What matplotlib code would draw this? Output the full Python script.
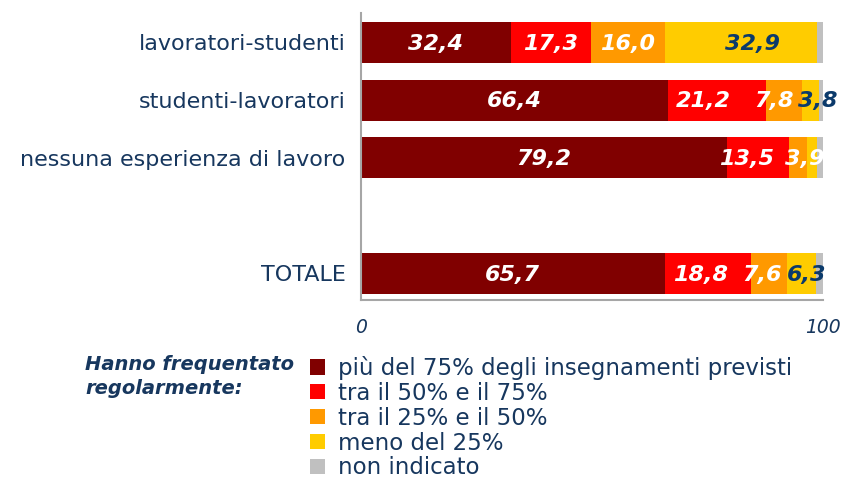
import matplotlib.pyplot as plt
from matplotlib.patches import Patch

categories = ['lavoratori-studenti', 'studenti-lavoratori',
              'nessuna esperienza di lavoro', 'TOTALE']
ypos = [0, 1, 2, 4]

series_names = ['più del 75% degli insegnamenti previsti', 'tra il 50% e il 75%',
                'tra il 25% e il 50%', 'meno del 25%', 'non indicato']
over75 = [32.4, 66.4, 79.2, 65.7]
from50to75 = [17.3, 21.2, 13.5, 18.8]
from25to50 = [16.0, 7.8, 3.9, 7.6]
under25 = [32.9, 3.8, 2.0, 6.3]
not_given = [1.4, 0.8, 1.4, 1.6]
# which segments carry a printed value
show_label = [
    [True, True, True, True, False],
    [True, True, True, True, False],
    [True, True, True, False, False],
    [True, True, True, True, False],
]
# small nudges (x units) so crowded labels don't collide, like in the original
nudge = {(0, 3): 2.5, (1, 1): -3.0, (1, 2): -2.0, (1, 3): 1.5,
         (2, 1): -2.5, (2, 2): 1.3, (3, 1): -1.5, (3, 2): -1.5, (3, 3): 1.3}

colors = ['#800000', '#FF0000', '#FF9900', '#FFCC00', '#C0C0C0']
label_colors = ['white', 'white', 'white', '#0B3A6B', 'white']
navy = '#17375E'

fig = plt.figure(figsize=(8.48, 4.79), dpi=100)
ax = fig.add_axes([361 / 848, 1 - 300 / 479, 462 / 848, 287 / 479])

series = [over75, from50to75, from25to50, under25, not_given]
left = [0.0] * len(categories)
for s, vals in enumerate(series):
    ax.barh(ypos, vals, left=left, height=0.71, color=colors[s], label=series_names[s])
    for i, v in enumerate(vals):
        if show_label[i][s]:
            ax.text(left[i] + v / 2 + nudge.get((i, s), 0), ypos[i] + 0.02,
                    f'{v:.1f}'.replace('.', ','),
                    ha='center', va='center', color=label_colors[s],
                    fontsize=16, fontweight='bold', fontstyle='italic')
    left = [l + v for l, v in zip(left, vals)]

ax.set_xlim(0, 100)
ax.set_ylim(4.46, -0.51)
ax.set_yticks(ypos)
ax.set_yticklabels(categories, fontsize=16, color=navy)
ax.set_xticks([0, 100])
ax.set_xticklabels(['0', '100'], fontsize=13.5, color=navy, fontstyle='italic')
ax.tick_params(length=0)
ax.tick_params(axis='x', pad=13)
ax.tick_params(axis='y', pad=11)
for side in ['top', 'right']:
    ax.spines[side].set_visible(False)
for side in ['left', 'bottom']:
    ax.spines[side].set_color('#A6A6A6')
    ax.spines[side].set_linewidth(1.5)

fig.text(85 / 848, 1 - 355 / 479, 'Hanno frequentato\nregolarmente:',
         ha='left', va='top', fontsize=14, fontweight='bold', fontstyle='italic',
         color=navy, linespacing=1.35)

handles = [Patch(facecolor=c, edgecolor='none') for c in colors]
fig.legend(handles, series_names, loc='upper left',
           bbox_to_anchor=(310 / 848, 1 - 356 / 479), frameon=False,
           fontsize=16.5, handlelength=0.65, handleheight=0.65,
           handletextpad=0.55, labelspacing=0.08, labelcolor=navy,
           borderaxespad=0, borderpad=0)

fig.savefig('out.png', dpi=100)
